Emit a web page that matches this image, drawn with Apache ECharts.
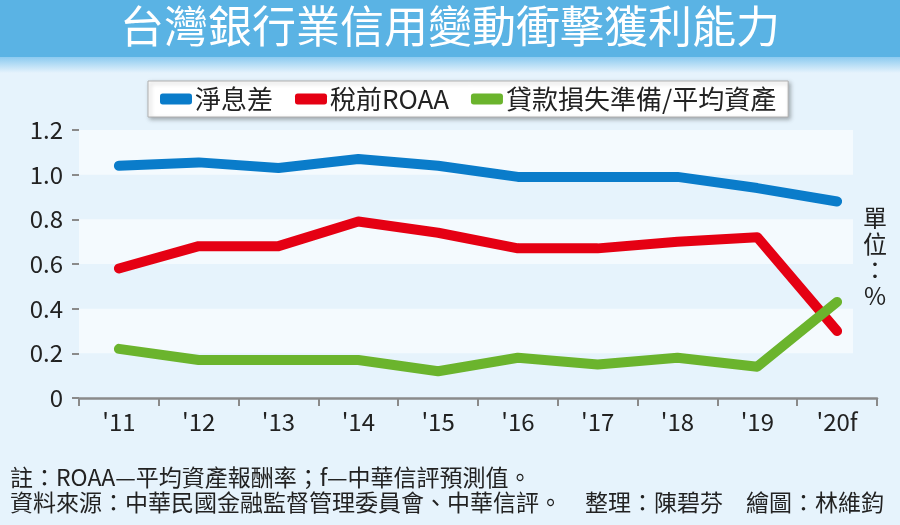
<!DOCTYPE html>
<html>
<head>
<meta charset="utf-8">
<script src="https://cdn.jsdelivr.net/npm/echarts@6/dist/echarts.min.js"></script>
<style>
html,body{margin:0;padding:0;background:#e6f3fc;}
#chart{width:900px;height:525px;}
</style>
</head>
<body>
<div id="chart"></div>
<script>
const categories = ["'11","'12","'13","'14","'15","'16","'17","'18","'19","'20f"];
const nim = [1.04, 1.055, 1.03, 1.07, 1.04, 0.99, 0.99, 0.99, 0.94, 0.88];
const roaa = [0.58, 0.68, 0.68, 0.79, 0.74, 0.67, 0.67, 0.70, 0.72, 0.30];
const provision = [0.22, 0.17, 0.17, 0.17, 0.12, 0.18, 0.15, 0.18, 0.14, 0.43];
const seriesNames = ['淨息差', '稅前ROAA', '貸款損失準備/平均資產'];
const yTicks = { min: 0, max: 1.2, interval: 0.2 };
const titleText = '台灣銀行業信用變動衝擊獲利能力';
const unitText = '單位：%';
const noteText = '註：ROAA—平均資產報酬率；f—中華信評預測值。';
const sourceText = '資料來源：中華民國金融監督管理委員會、中華信評。　整理：陳碧芬　繪圖：林維鈞';

const FONT = '"Noto Sans CJK TC", "Noto Sans", sans-serif';
const colors = ['#0a7cca', '#e50013', '#6bb42d'];

const chart = echarts.init(document.getElementById('chart'), null, {renderer: 'canvas'});
const lineSeries = (name, data, color) => ({
  name, type: 'line', data, xAxisIndex: 0, yAxisIndex: 0,
  color, symbol: 'none', smooth: false,
  lineStyle: { width: 10, color, cap: 'round', join: 'round' },
  emphasis: { disabled: true }, animation: false
});

chart.setOption({
  backgroundColor: '#e6f3fc',
  animation: false,
  textStyle: { fontFamily: FONT },
  graphic: [
    { type: 'rect', left: 0, top: 0, shape: { width: 900, height: 57 }, style: { fill: '#5ab3e4' }, z: 0 },
    { type: 'rect', left: 0, top: 57, shape: { width: 900, height: 16 },
      style: { fill: new echarts.graphic.LinearGradient(0, 0, 0, 1, [
        { offset: 0, color: '#8ccbf0' }, { offset: 1, color: '#e6f3fc' }]) }, z: 0 },
    { type: 'text', left: 'center', top: 4, z: 10,
      style: { text: titleText, fill: '#ffffff', font: '44px ' + FONT } },
    { type: 'text', x: 875, y: 205, z: 10,
      style: { text: unitText.split('').join('\n'), fill: '#222', font: '24px ' + FONT, lineHeight: 26, align: 'center' } },
    { type: 'text', x: 10, y: 466, z: 10,
      style: { text: noteText, fill: '#222', font: '23px ' + FONT } },
    { type: 'text', x: 10, y: 491, z: 10,
      style: { text: sourceText, fill: '#222', font: '23px ' + FONT } }
  ],
  legend: {
    data: seriesNames,
    left: 148, top: 81,
    icon: 'roundRect',
    itemWidth: 32, itemHeight: 11, itemGap: 22,
    padding: [5, 12, 5, 12],
    backgroundColor: '#ffffff',
    borderColor: '#b0b0b0', borderWidth: 1,
    shadowColor: 'rgba(0,0,0,0.3)', shadowBlur: 4, shadowOffsetX: 2, shadowOffsetY: 2,
    textStyle: { fontSize: 26, color: '#222', fontFamily: FONT, padding: [0, 0, 0, -2] },
    selectedMode: false
  },
  grid: [
    { left: 79, right: 23, top: 130, bottom: 127, containLabel: false },
    { left: 79, right: 47, top: 130, bottom: 127, containLabel: false }
  ],
  xAxis: [
    { type: 'category', gridIndex: 0, data: categories, boundaryGap: true,
      axisLine: { lineStyle: { color: '#8a8a8a', width: 2.5 } },
      axisTick: { show: true, length: 8, lineStyle: { color: '#8a8a8a', width: 2 } },
      axisLabel: { fontSize: 24, color: '#222', margin: 12, fontFamily: FONT },
      splitLine: { show: false } },
    { type: 'category', gridIndex: 1, data: categories, show: false }
  ],
  yAxis: [
    { type: 'value', gridIndex: 0, min: yTicks.min, max: yTicks.max, interval: yTicks.interval,
      axisLine: { show: false },
      axisTick: { show: true, length: 7, lineStyle: { color: '#8a8a8a', width: 2 } },
      axisLabel: { fontSize: 24, color: '#222', margin: 16, fontFamily: FONT,
        formatter: v => v === 0 ? '0' : v.toFixed(1) },
      splitLine: { show: false } },
    { type: 'value', gridIndex: 1, min: yTicks.min, max: yTicks.max, interval: yTicks.interval,
      axisLine: { show: false }, axisTick: { show: false }, axisLabel: { show: false },
      splitLine: { show: false },
      splitArea: { show: true, areaStyle: { color: ['rgba(0,0,0,0)', '#f4fafe'] } } }
  ],
  series: [
    lineSeries(seriesNames[0], nim, colors[0]),
    lineSeries(seriesNames[1], roaa, colors[1]),
    lineSeries(seriesNames[2], provision, colors[2])
  ]
});
</script>
</body>
</html>
